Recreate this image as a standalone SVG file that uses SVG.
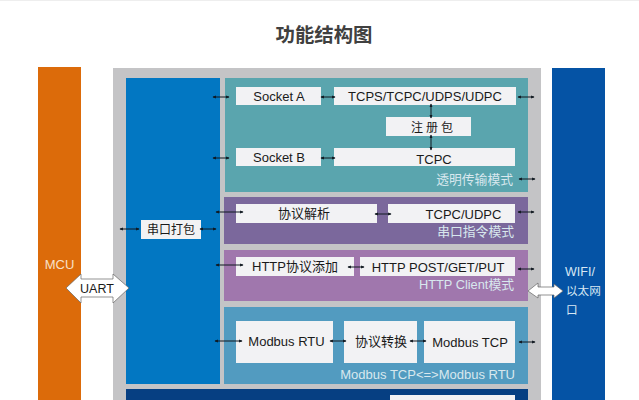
<svg xmlns="http://www.w3.org/2000/svg" width="639" height="400" viewBox="0 0 639 400">
<defs>
<marker id="a" viewBox="0 0 6 6" refX="5" refY="3" markerWidth="3.500" markerHeight="3.500" orient="auto-start-reverse" markerUnits="userSpaceOnUse"><path d="M0 0.5L6 3L0 5.500Z" fill="#101820"/></marker>
</defs>
<style>
text{font-family:"Liberation Sans","Noto Sans CJK SC",sans-serif}
.w{fill:#f2f2f4}
.t{font-size:13px;fill:#1a1a1a;text-anchor:middle}
.s{font-size:12px}
.m{font-size:12.800px;fill:#d8e8ee;text-anchor:end}
.c{stroke:#101820;stroke-width:1;fill:none;marker-start:url(#a);marker-end:url(#a)}
</style>
<rect width="639" height="400" fill="#fff"/>
<rect width="639" height="1" fill="#eeeeee"/>
<text x="324" y="42" font-size="19.400" font-weight="700" fill="#404040" text-anchor="middle">功能结构图</text>
<g id="mcu"><rect x="38" y="67" width="43" height="333" fill="#dc6b0a"/><text x="59.500" y="269" font-size="13" fill="#f8e0c8" text-anchor="middle">MCU</text></g>
<g id="frame"><rect x="113" y="68" width="428" height="332" fill="#c4c4c6"/></g>
<g id="serial"><rect x="126" y="78" width="94" height="306" fill="#0277c2"/><rect x="141" y="220" width="60" height="19" fill="#f2f2f4"/><text x="171" y="234" class="t s">串口打包</text></g>
<g id="transparent"><rect x="225" y="78" width="303" height="114" fill="#5aa5ae"/>
<rect x="236" y="87" width="85" height="18" class="w"/><text x="279" y="101" class="t">Socket A</text>
<rect x="334" y="87" width="182" height="18" class="w"/><text x="425" y="101" class="t">TCPS/TCPC/UDPS/UDPC</text>
<rect x="386" y="117" width="85" height="19" class="w"/><text x="433.500" y="132" class="t s" letter-spacing="3">注册包</text>
<rect x="236" y="148" width="85" height="18" class="w"/><text x="279" y="162" class="t">Socket B</text>
<rect x="334" y="148" width="181" height="18" class="w"/><text x="434" y="164" class="t">TCPC</text>
<text x="513" y="184" class="m">透明传输模式</text></g>
<g id="command"><rect x="224" y="197" width="304" height="47" fill="#7b689c"/>
<rect x="236" y="204" width="141" height="19" class="w"/><text x="304" y="218" class="t">协议解析</text>
<rect x="388" y="204" width="127" height="19" class="w"/><text x="463.500" y="219" class="t">TCPC/UDPC</text>
<text x="514" y="236" class="m">串口指令模式</text></g>
<g id="http"><rect x="224" y="250" width="304" height="51" fill="#a077ad"/>
<rect x="236" y="257" width="118" height="19" class="w"/><text x="295" y="271" class="t">HTTP协议添加</text>
<rect x="360" y="257" width="155" height="19" class="w"/><text x="438" y="272" class="t">HTTP POST/GET/PUT</text>
<text x="514" y="289" class="m">HTTP Client模式</text></g>
<g id="modbus"><rect x="224" y="307" width="304" height="77" fill="#529bc0"/>
<rect x="236" y="321" width="97" height="42" class="w"/><text x="286.500" y="346" class="t">Modbus RTU</text>
<rect x="344" y="321" width="73" height="42" class="w"/><text x="381" y="346" class="t">协议转换</text>
<rect x="424" y="321" width="91" height="42" class="w"/><text x="470" y="347" class="t">Modbus TCP</text>
<text x="515" y="379" class="m" style="font-size:13px">Modbus TCP&lt;=&gt;Modbus RTU</text></g>
<g id="bottom"><rect x="126" y="389" width="402" height="11" fill="#063f82"/><rect x="390" y="395" width="125" height="5" class="w"/></g>
<g id="wifi"><rect x="552" y="68" width="53" height="332" fill="#0553a5"/><text x="565" y="276" font-size="12.500" fill="#d8e8f4">WIFI/</text><text x="566" y="295" font-size="11.600" fill="#d8e8f4">以太网</text><text x="566" y="314" font-size="11.600" fill="#d8e8f4">口</text></g>
<g id="connectors">
<path class="c" d="M213 97H229"/><path class="c" d="M321 97H335"/><path class="c" d="M518 97H534"/>
<path class="c" d="M213 158H229"/><path class="c" d="M321 158H335"/>
<path class="c" d="M431 104V118"/><path class="c" d="M431 135V150"/>
<path class="c" d="M519 179H535"/>
<path class="c" d="M120 229H139"/><path class="c" d="M200 229H216"/>
<path class="c" d="M216 212H243"/><path class="c" d="M375 214H391"/><path class="c" d="M518 212H534"/>
<path class="c" d="M216 265H243"/><path class="c" d="M348 267H364"/><path class="c" d="M518 269H534"/>
<path class="c" d="M215 341H242"/><path class="c" d="M330 341H346"/><path class="c" d="M410 341H426"/><path class="c" d="M519 342H535"/>
<path d="M66 288L81 274V279H113V274L129 288L113 303V297H81V303Z" fill="#fff" stroke="#666" stroke-width="0.700"/>
<path d="M528 291L538 283V287H554V284L563 291L554 298V295H538V298Z" fill="#fff" stroke="#666" stroke-width="0.700"/>
</g>
<text x="97" y="293" font-size="12.500" fill="#1a1a1a" text-anchor="middle">UART</text>
</svg>
